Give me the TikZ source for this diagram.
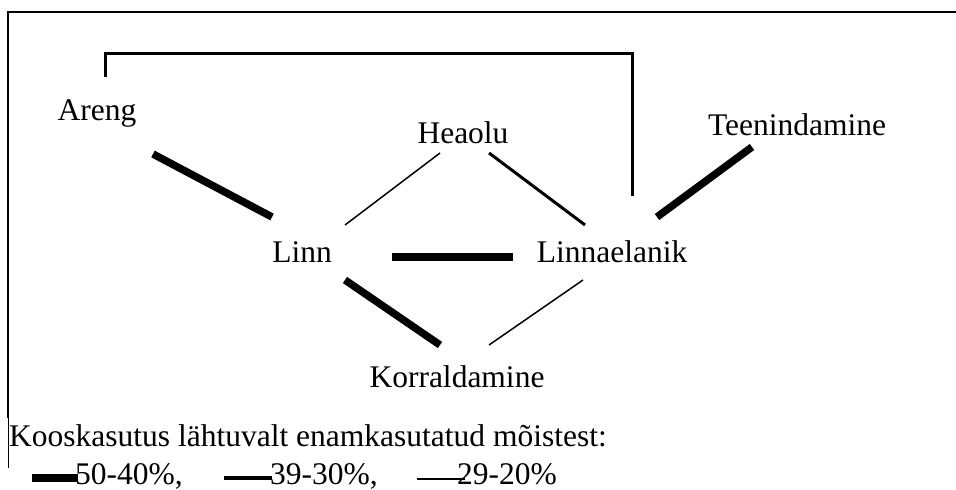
\documentclass[tikz,border=0pt]{standalone}
\usepackage{fontspec}
\setmainfont{Liberation Serif}
\tikzset{word/.style={inner sep=0pt, anchor=base, font=\fontsize{31.5}{36}\selectfont}}
\tikzset{strong/.style={line width=7.5pt}}
\tikzset{medium/.style={line width=3pt}}
\tikzset{weak/.style={line width=1.5pt}}
\tikzset{bracket/.style={line width=3pt}}

\begin{document}
\begin{tikzpicture}[x=1pt, y=-1pt]
    \useasboundingbox (0,0) rectangle (956,490);

    \draw[line width=1.6pt] (956,12) -- (8,12) -- (8,418);
    \draw[line width=0.8pt] (8,418) -- (8,468);

    \node[word] (areng)   at (97,120)  {Areng};
    \node[word] (heaolu)  at (463,143) {Heaolu};
    \node[word] (teen)    at (797,135) {Teenindamine};
    \node[word] (linn)    at (302,262) {Linn};
    \node[word] (elanik)  at (612,262) {Linnaelanik};
    \node[word] (korr)    at (457,387) {Korraldamine};

    \coordinate (top) at (0,53);
    \coordinate (bstart) at ([shift={(8,-43)}]areng.base);
    \coordinate (bend) at ([shift={(20,-66)}]elanik.base);

    \draw[strong] ([shift={(56,34)}]areng.base) -- ([shift={(-30,-45)}]linn.base);
    \draw[weak]   ([shift={(-23,10)}]heaolu.base) -- ([shift={(43,-37)}]linn.base);
    \draw[medium] ([shift={(26,10)}]heaolu.base) -- ([shift={(-27,-37)}]elanik.base);
    \draw[strong] ([shift={(90,-5)}]linn.base) -- ([shift={(-99,-5)}]elanik.base);
    \draw[strong] ([shift={(43,18)}]linn.base) -- ([shift={(-17,-42)}]korr.base);
    \draw[weak]   ([shift={(-29,18)}]elanik.base) -- ([shift={(32,-42)}]korr.base);
    \draw[strong] ([shift={(45,-45)}]elanik.base) -- ([shift={(-45,12)}]teen.base);

    \draw[bracket] (bstart) -- (bstart |- top) -| (bend);

    \node[word, anchor=base west] (title) at (9,446) {Kooskasutus lähtuvalt enamkasutatud mõistest:};
    \node[word, anchor=base west] (lg1) at (75,484) {50-40\%,};
    \node[word, anchor=base west] (lg2) at (270,484) {39-30\%,};
    \node[word, anchor=base west] (lg3) at (457,484) {29-20\%};

    \draw[line width=8pt] ([shift={(-43,-6)}]lg1.base west) -- ++(46,0);
    \draw[line width=3.5pt] ([shift={(-46,-6)}]lg2.base west) -- ++(48,0);
    \draw[line width=2pt] ([shift={(-40,-5)}]lg3.base west) -- ++(48,0);

\end{tikzpicture}
\end{document}
